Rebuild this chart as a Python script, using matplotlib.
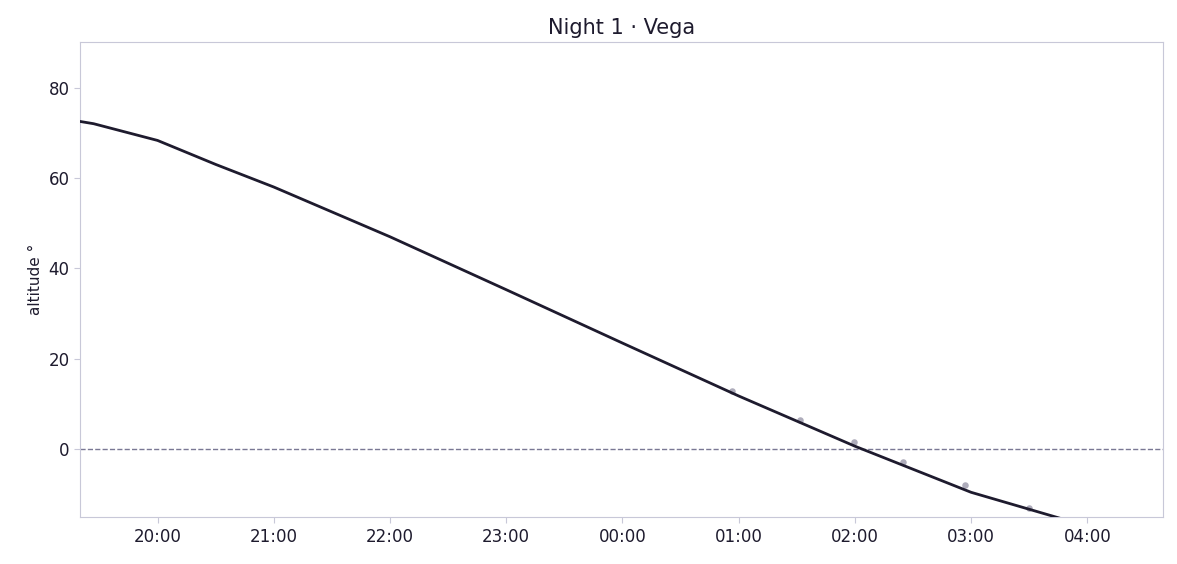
import numpy as np
import matplotlib
matplotlib.use("Agg")
import matplotlib.pyplot as plt
import matplotlib.dates as mdates
from datetime import datetime, timedelta

# altitude curve (hours after 00:00 of night date; negative = evening before)
curve_hours = [-4.667, -4.55, -4.0, -3.5, -3.0, -2.0, -1.0, 0.0, 1.0, 2.0, 3.0, 3.8]
curve_alt = [72.5, 72.0, 68.3, 63.0, 58.0, 47.0, 35.3, 23.5, 11.8, 0.7, -9.5, -15.5]

obs_hours = [0.94, 1.53, 1.99, 2.41, 2.95, 3.5]
obs_alt = [12.9, 6.4, 1.6, -2.7, -7.8, -12.9]

base = datetime(2024, 1, 2, 0, 0)
to_dt = lambda hs: [base + timedelta(hours=h) for h in hs]

ink = "#1e1b2e"
edge = "#c8c8d8"

fig, ax = plt.subplots(figsize=(11.77, 5.64), dpi=100)
ax.plot(to_dt(curve_hours), curve_alt, color=ink, lw=2, zorder=3)
ax.scatter(to_dt(obs_hours), obs_alt, s=22, color="#9a98aa", alpha=0.8, zorder=2, linewidths=0)
ax.axhline(0, color="#7a7894", lw=1, ls="--", zorder=1)

ax.set_xlim(base + timedelta(hours=-4.667), base + timedelta(hours=4.65))
ax.set_ylim(-15, 90)
ax.set_yticks([0, 20, 40, 60, 80])
ax.xaxis.set_major_locator(mdates.HourLocator())
ax.xaxis.set_major_formatter(mdates.DateFormatter("%H:%M"))
ax.set_ylabel("altitude °", color=ink, fontsize=11)
ax.set_title("Night 1 · Vega", color=ink, fontsize=15)
ax.tick_params(colors=ink, labelsize=12, length=4)
ax.tick_params(color=edge)
for s in ax.spines.values():
    s.set_color(edge)

fig.subplots_adjust(left=0.068, right=0.988, top=0.925, bottom=0.083)
plt.savefig("out.png")
